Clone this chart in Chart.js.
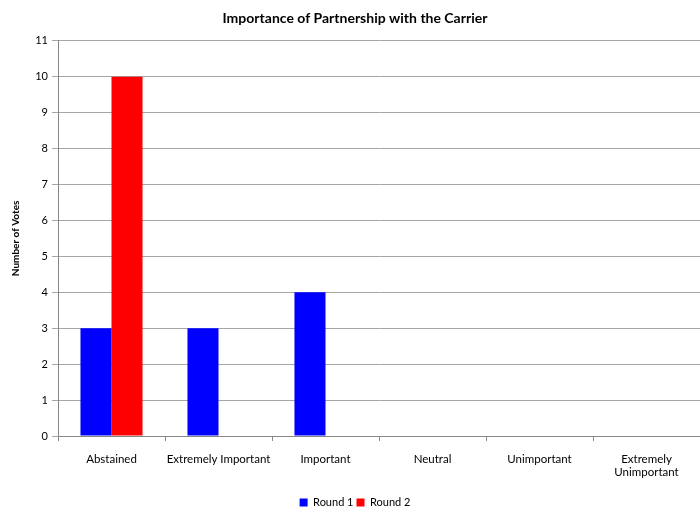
<!DOCTYPE html>
<html><head><meta charset="utf-8">
<script src="https://cdn.jsdelivr.net/npm/chart.js@4/dist/chart.umd.min.js"></script>
<style>html,body{margin:0;padding:0;background:#fff}#wrap{width:700px;height:511px}</style>
</head><body><div id="wrap"><canvas id="c" width="700" height="511"></canvas></div>
<script>
const categories = ['Abstained', 'Extremely Important', 'Important', 'Neutral', 'Unimportant', ['Extremely', 'Unimportant']];
const round1 = [3, 3, 4, 0, 0, 0];
const round2 = [10, 0, 0, 0, 0, 0];
const yTicks = [0,1,2,3,4,5,6,7,8,9,10,11];
const FONT = 'Lato, "Open Sans", sans-serif';
new Chart(document.getElementById('c'), {
  type: 'bar',
  data: {
    labels: categories,
    datasets: [
      {label: 'Round 1', data: round1, backgroundColor: '#0000FF', categoryPercentage: 0.58, barPercentage: 1.0},
      {label: 'Round 2', data: round2, backgroundColor: '#FF0000', categoryPercentage: 0.58, barPercentage: 1.0}
    ]
  },
  options: {
    responsive: false, animation: false,
    layout: {padding: {left: 10, right: 0, top: 10, bottom: -7}},
    plugins: {
      title: {display: true, text: 'Importance of Partnership with the Carrier', color: '#000',
        font: {family: FONT, size: 14, weight: 'bold'}, padding: {top: 0, bottom: 14}},
      legend: {position: 'bottom', labels: {boxWidth: 8, boxHeight: 8, color: '#000', padding: 3,
        font: {family: FONT, size: 11}}},
      tooltip: {enabled: false}
    },
    scales: {
      x: {
        grid: {drawOnChartArea: false, drawTicks: true, tickLength: 5, color: '#888', offset: true},
        border: {color: '#888'},
        ticks: {color: '#000', font: {family: FONT, size: 11.5}, maxRotation: 0, autoSkip: false, padding: 11},
        afterFit: s => { s.height = 58; }
      },
      y: {
        min: 0, max: 11,
        afterBuildTicks: s => { s.ticks = yTicks.map(v => ({value: v})); },
        grid: {color: '#a6a6a6', tickLength: 6},
        border: {color: '#888'},
        ticks: {color: '#000', font: {family: FONT, size: 11}, padding: 4},
        title: {display: true, text: 'Number of Votes', color: '#000', font: {family: FONT, size: 10, weight: 'bold'}, padding: {top: 0, bottom: 4}},
        afterFit: s => { s.width = 48; }
      }
    }
  }
});
</script></body></html>
